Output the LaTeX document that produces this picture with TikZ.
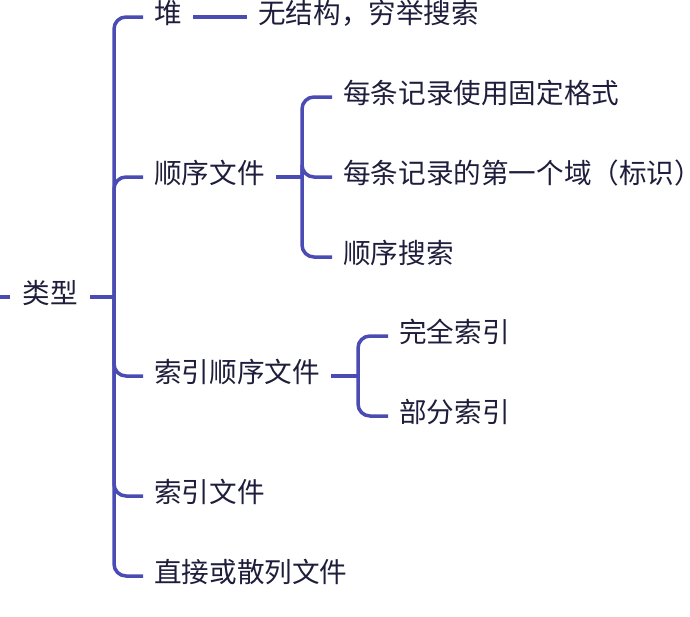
\documentclass[tikz,border=0pt]{standalone}
\usepackage{fontspec}
\setmainfont{Noto Sans CJK SC}
\definecolor{linecol}{RGB}{75,75,180}
\definecolor{txtcol}{RGB}{30,30,60}
\begin{document}
\begin{tikzpicture}[x=1pt,y=-1pt,
  link/.style={draw=linecol, line width=3.5pt},
  curved/.style={link, rounded corners=12pt},
  lbl/.style={anchor=west, inner xsep=11pt, inner ysep=0pt, text=txtcol,
    font=\fontsize{27.6}{32}\selectfont, text height=1.34em, text depth=0em}]
\useasboundingbox (0,0) rectangle (690,616);
\node[lbl, anchor=center, inner xsep=12pt] (root) at (50,297) {类型};
\coordinate (rootL) at (0,297);
\coordinate (j1) at (114,297);
\node[lbl] (heap) at (143,17) {堆};
\node[lbl] (heapd) at (247,17) {无结构，穷举搜索};
\node[lbl] (seq) at (143,177) {顺序文件};
\coordinate (j2) at (302,177);
\node[lbl] (s1) at (332,97) {每条记录使用固定格式};
\node[lbl, inner xsep=0pt] (s2) at (332,177) {\hspace{11pt}每条记录的第一个域（标识）};
\node[lbl] (s3) at (332,257) {顺序搜索};
\node[lbl] (iseq) at (143,376) {索引顺序文件};
\coordinate (j3) at (358,376);
\node[lbl] (i1) at (388,336) {完全索引};
\node[lbl] (i2) at (388,416) {部分索引};
\node[lbl] (idx) at (143,496) {索引文件};
\node[lbl] (hash) at (143,576) {直接或散列文件};
\draw[link] (rootL) -- (root.west);
\draw[link] (root.east) -- (j1);
\foreach \n in {heap,seq,iseq,idx,hash} \draw[curved] (j1) |- (\n.west);
\draw[link] (heap.east) -- (heapd.west);
\draw[link] (seq.east) -- (j2);
\foreach \n in {s1,s2,s3} \draw[curved] (j2) |- (\n.west);
\draw[link] (iseq.east) -- (j3);
\foreach \n in {i1,i2} \draw[curved] (j3) |- (\n.west);
\end{tikzpicture}
\end{document}
